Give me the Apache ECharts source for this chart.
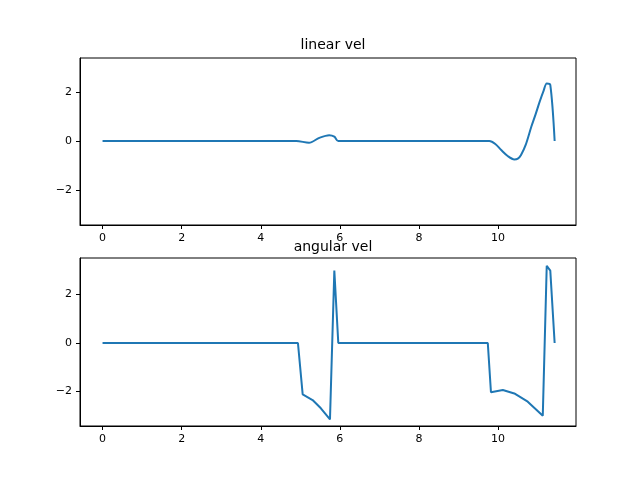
<!DOCTYPE html>
<html>
<head>
<meta charset="utf-8">
<script src="https://cdn.jsdelivr.net/npm/echarts@6/dist/echarts.min.js"></script>
<style>html,body{margin:0;padding:0;background:#fff}#c{width:640px;height:480px}</style>
</head>
<body>
<div id="c"></div>
<script>
// linear velocity samples [t, v]
var linearVel = [
    [0, 0], [4.9, 0], [5.22, -0.07], [5.48, 0.13], [5.73, 0.24], [5.86, 0.18], [5.96, 0],
    [9.78, 0], [9.93, -0.12], [10.08, -0.37], [10.25, -0.62], [10.41, -0.75], [10.5, -0.72],
    [10.58, -0.57], [10.7, -0.15], [10.84, 0.58], [10.95, 1.1], [11.05, 1.6], [11.15, 2.05],
    [11.23, 2.35], [11.32, 2.29], [11.43, 0]
];
// angular velocity samples [t, w]
var angularVel = [
    [0, 0], [4.94, 0], [5.06, -2.12], [5.31, -2.35], [5.52, -2.69], [5.75, -3.15], [5.86, 2.98],
    [5.96, 0], [9.74, 0], [9.82, -2.03], [10.12, -1.94], [10.41, -2.08], [10.75, -2.42],
    [11.13, -3.0], [11.23, 3.18], [11.32, 2.98], [11.43, 0]
];
var xTicks = [0, 2, 4, 6, 8, 10];
var yTicks = [-2, 0, 2];
var titles = ["linear vel", "angular vel"];

var chart = echarts.init(document.getElementById("c"));
var font = "DejaVu Sans";
function xAxis(i) {
    return {
        type: "value", gridIndex: i, min: -0.57, max: 11.97,
        axisLine: {onZero: false, lineStyle: {color: "#000"}},
        axisTick: {show: true, inside: false, length: 4, lineStyle: {color: "#000"}, customValues: xTicks},
        axisLabel: {color: "#000", fontFamily: font, fontSize: 11, customValues: xTicks},
        splitLine: {show: false}
    };
}
function yAxis(i, min, max) {
    return {
        type: "value", gridIndex: i, min: min, max: max,
        axisLine: {show: true, onZero: false, lineStyle: {color: "#000"}},
        axisTick: {show: true, length: 4, lineStyle: {color: "#000"}, customValues: yTicks},
        axisLabel: {color: "#000", fontFamily: font, fontSize: 11, customValues: yTicks,
            formatter: function (v) { return v < 0 ? "\u2212" + (-v) : String(v); }},
        splitLine: {show: false}
    };
}
chart.setOption({
    animation: false,
    title: [
        {text: titles[0], left: 328, top: 33, textAlign: "center",
            textStyle: {fontFamily: font, fontSize: 14, fontWeight: "normal", color: "#000"}},
        {text: titles[1], left: 328, top: 235, textAlign: "center",
            textStyle: {fontFamily: font, fontSize: 14, fontWeight: "normal", color: "#000"}}
    ],
    grid: [
        {left: 80, top: 58, width: 496, height: 167, show: true, borderColor: "#000", borderWidth: 1},
        {left: 80, top: 258, width: 496, height: 168, show: true, borderColor: "#000", borderWidth: 1}
    ],
    xAxis: [xAxis(0), xAxis(1)],
    yAxis: [yAxis(0, -3.43, 3.39), yAxis(1, -3.42, 3.5)],
    series: [
        {type: "line", xAxisIndex: 0, yAxisIndex: 0, data: linearVel, smooth: 0.3, showSymbol: false,
            lineStyle: {color: "#1f77b4", width: 2}},
        {type: "line", xAxisIndex: 1, yAxisIndex: 1, data: angularVel, smooth: false, showSymbol: false,
            lineStyle: {color: "#1f77b4", width: 2}}
    ]
});
</script>
</body>
</html>
